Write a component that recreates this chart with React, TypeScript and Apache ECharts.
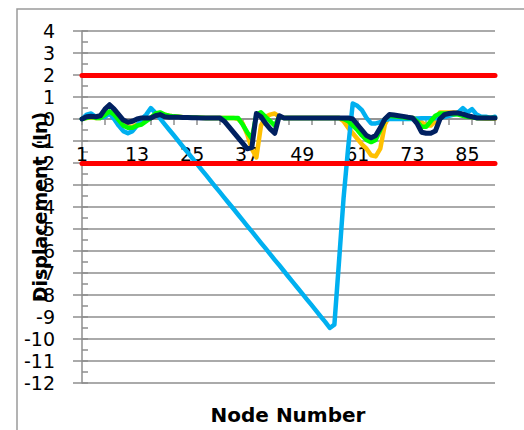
import React, { useEffect, useRef } from "react";
import * as echarts from "echarts";

// Node numbers 1..91
const nodes: string[] = Array.from({ length: 91 }, (_, i) => String(i + 1));

const yMin = -12;
const yMax = 4;
const yInterval = 1;
const limitUpper = 2;
const limitLower = -2;

const lightBlue = [
  0, 0.2, 0.25, 0.1, 0.05, 0.1, 0.25, 0, -0.3, -0.55,
  -0.65, -0.55, -0.3, 0.0, 0.2, 0.5, 0.28, 0.03, -0.23, -0.49,
  -0.74, -1.0, -1.26, -1.51, -1.77, -2.03, -2.29, -2.54, -2.8, -3.06,
  -3.31, -3.57, -3.83, -4.08, -4.34, -4.6, -4.86, -5.11, -5.37, -5.63,
  -5.88, -6.14, -6.4, -6.65, -6.91, -7.17, -7.43, -7.68, -7.94, -8.2,
  -8.45, -8.71, -8.97, -9.22, -9.5, -9.35, -6.5, -3.6, -1.3, 0.7,
  0.6, 0.4, 0.05, -0.2, -0.2, -0.15, -0.05, 0, 0, 0,
  0, 0, 0, 0.02, 0.03, 0.03, 0.03, 0.03, 0.05, 0.1,
  0.15, 0.2, 0.3, 0.5, 0.3, 0.45, 0.2, 0.1, 0.1, 0.05, 0.1,
];

const orange = [
  0, 0.05, 0.08, 0.05, 0.05, 0.15, 0.3, 0.15, -0.05, -0.25,
  -0.35, -0.35, -0.25, -0.2, -0.05, 0.05, 0.2, 0.25, 0.2, 0.15,
  0.12, 0.1, 0.08, 0.07, 0.07, 0.06, 0.06, 0.05, 0.05, 0.05,
  0.05, 0.05, 0.05, 0.05, 0.0, -0.2, -0.7, -1.35, -1.75, -0.3,
  0.1, 0.2, 0.25, 0.1, 0.05, 0.05, 0.05, 0.05, 0.05, 0.05,
  0.05, 0.05, 0.05, 0.05, 0.05, 0.05, 0.05, -0.1, -0.4, -0.65,
  -0.9, -1.15, -1.35, -1.65, -1.7, -1.35, -0.25, 0.15, 0.12, 0.1,
  0.08, 0.05, 0.05, 0.0, -0.15, -0.3, -0.3, -0.1, 0.3, 0.3,
  0.3, 0.3, 0.28, 0.2, 0.12, 0.08, 0.05, 0.03, 0.02, 0.02, 0.02,
];

const green = [
  0, 0.05, 0.1, 0.05, 0.05, 0.2, 0.35, 0.2, -0.05, -0.3,
  -0.4, -0.4, -0.3, -0.25, -0.1, 0.05, 0.25, 0.3, 0.2, 0.15,
  0.12, 0.1, 0.08, 0.07, 0.07, 0.06, 0.06, 0.05, 0.05, 0.05,
  0.05, 0.05, 0.05, 0.05, 0.05, -0.25, -0.6, -0.9, 0.2, 0.3,
  0.1, -0.1, -0.3, 0.1, 0.05, 0.05, 0.05, 0.05, 0.05, 0.05,
  0.05, 0.05, 0.05, 0.05, 0.05, 0.05, 0.05, 0.0, -0.1, -0.3,
  -0.5, -0.75, -0.95, -1.05, -0.95, -0.5, 0.0, 0.15, 0.12, 0.1,
  0.08, 0.05, 0.05, -0.1, -0.35, -0.35, -0.1, 0.15, 0.25, 0.25,
  0.25, 0.22, 0.2, 0.15, 0.1, 0.08, 0.05, 0.05, 0.05, 0.05, 0.05,
];

const navy = [
  0, 0.1, 0.12, 0.1, 0.15, 0.45, 0.65, 0.45, 0.2, -0.05,
  -0.15, -0.1, 0, 0.05, 0.05, 0.05, 0.15, 0.2, 0.1, 0.08,
  0.08, 0.08, 0.07, 0.07, 0.06, 0.06, 0.05, 0.05, 0.05, 0.05,
  0.05, -0.1, -0.35, -0.6, -0.85, -1.1, -1.35, -1.3, 0.25, 0.1,
  -0.2, -0.45, -0.65, 0.15, 0.05, 0.05, 0.05, 0.05, 0.05, 0.05,
  0.05, 0.05, 0.05, 0.05, 0.05, 0.05, 0.05, 0.05, 0.05, 0.0,
  -0.25, -0.5, -0.75, -0.85, -0.75, -0.4, 0.0, 0.2, 0.18, 0.15,
  0.12, 0.08, 0.05, -0.2, -0.6, -0.65, -0.65, -0.55, 0.0, 0.2,
  0.25, 0.27, 0.27, 0.22, 0.15, 0.1, 0.05, 0.05, 0.05, 0.05, 0.05,
];

const FONT = "DejaVu Sans";
const GRID_GRAY = "#8e8e8e";

// plot geometry
const GRID_TOP = 31;
const GRID_BOTTOM = 47;
const CHART_H = 430;
const plotH = CHART_H - GRID_TOP - GRID_BOTTOM;
// lift the category axis from the bottom of the plot up to the value 0
const zeroOffset = -plotH * (0 - yMin) / (yMax - yMin);

function lineSeries(name: string, data: number[], color: string, width: number, extra: any = {}) {
  return {
    name,
    type: "line",
    data,
    symbol: "none",
    showSymbol: false,
    yAxisIndex: 0,
    lineStyle: { color, width, cap: "round", join: "round" },
    ...extra,
  };
}

export default function App() {
  const ref = useRef<HTMLDivElement>(null);
  useEffect(() => {
    document.body.style.margin = "0";
    const chart = echarts.init(ref.current!, undefined, { renderer: "svg" });
    chart.setOption({
      animation: false,
      backgroundColor: "#ffffff",
      grid: {
        left: 82,
        top: GRID_TOP,
        right: 29,
        bottom: GRID_BOTTOM,
        containLabel: false,
        outerBoundsMode: "none",
      },
      xAxis: {
        type: "category",
        data: nodes,
        boundaryGap: false,
        position: "bottom",
        offset: zeroOffset,
        axisLine: { onZero: false, lineStyle: { color: GRID_GRAY, width: 1.5 } },
        axisTick: { show: true, interval: 4, length: 6, lineStyle: { color: GRID_GRAY, width: 1.5 } },
        axisLabel: { interval: 11, margin: 25, fontSize: 19, color: "#000", fontFamily: FONT },
        splitLine: { show: false },
      },
      yAxis: [
        {
          type: "value",
          min: yMin,
          max: yMax,
          interval: yInterval,
          axisLine: { show: true, onZero: false, lineStyle: { color: GRID_GRAY, width: 1.5 } },
          axisTick: { show: true, length: 9, lineStyle: { color: GRID_GRAY, width: 1.5 } },
          axisLabel: { margin: 27, fontSize: 19, color: "#000", fontFamily: FONT },
          splitLine: { show: true, lineStyle: { color: GRID_GRAY, width: 1.5 } },
          name: "Displacement (In)",
          nameLocation: "middle",
          nameGap: 33,
          nameMoveOverlap: false,
          nameTextStyle: { fontSize: 19, fontWeight: "bold", color: "#000", fontFamily: FONT },
        },
        {
          type: "value",
          min: yMin,
          max: yMax,
          interval: 0.5,
          position: "left",
          axisLine: { show: false, onZero: false },
          axisTick: { show: true, inside: true, length: 6, lineStyle: { color: GRID_GRAY, width: 1.5 } },
          axisLabel: { show: false },
          splitLine: { show: false },
        },
      ],
      series: [
        lineSeries("Series 3", orange, "#FFC000", 4.5),
        lineSeries("Series 1", lightBlue, "#00B0F0", 4.5),
        lineSeries("Series 2", green, "#00FF00", 4.5),
        lineSeries("Series 4", navy, "#002060", 5, {
          markLine: {
            silent: true,
            symbol: "none",
            label: { show: false },
            lineStyle: { color: "#FF0000", width: 5, type: "solid", cap: "round" },
            data: [{ yAxis: limitUpper }, { yAxis: limitLower }],
          },
        }),
      ],
      graphic: [
        {
          type: "rect",
          shape: { x: 17, y: 9, width: 600, height: 600 },
          style: { fill: "none", stroke: "#9a9a9a", lineWidth: 1.5 },
          silent: true,
        },
        {
          type: "text",
          x: 288,
          y: 415,
          style: {
            text: "Node Number",
            fontSize: 20,
            fontWeight: "bold",
            fontFamily: FONT,
            fill: "#000",
            textAlign: "center",
            textVerticalAlign: "middle",
          },
        },
      ],
    });
    return () => chart.dispose();
  }, []);
  return (
    <div
      ref={ref}
      style={{ position: "absolute", left: 0, top: 0, width: 524, height: 430 }}
    />
  );
}
